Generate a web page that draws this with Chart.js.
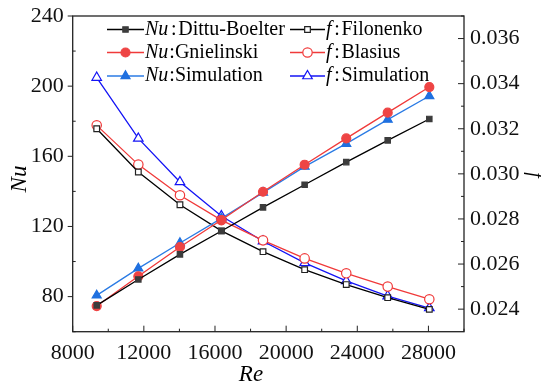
<!DOCTYPE html>
<html>
<head>
<meta charset="utf-8">
<script src="https://cdn.jsdelivr.net/npm/chart.js@4.4.0/dist/chart.umd.min.js"></script>
<style>
  html, body { margin: 0; padding: 0; background: #fff; }
  #wrap { width: 541px; height: 387px; }
</style>
</head>
<body>
<div id="wrap"><canvas id="Chart1"></canvas></div>
<script>
// values
const re = [9350, 11690, 14030, 16360, 18700, 21040, 23380, 25710, 28050]
const nuDittus = [75.0, 89.8, 104.1, 117.4, 130.9, 143.8, 156.7, 169.1, 181.3]
const nuGnielinski = [74.6, 91.6, 108.3, 123.7, 139.8, 155.2, 170.2, 184.9, 199.5]
const nuSimulation = [80.7, 96.1, 110.6, 124.6, 139.3, 154.1, 167.2, 180.9, 194.4]
const fFilonenko = [0.03200, 0.03008, 0.02863, 0.02747, 0.02655, 0.02575, 0.02509, 0.02451, 0.02399]
const fBlasius = [0.03215, 0.03041, 0.02905, 0.02795, 0.02705, 0.02625, 0.02559, 0.02500, 0.02444]
const fSimulation = [0.03427, 0.03157, 0.02964, 0.02813, 0.02701, 0.02605, 0.02525, 0.02458, 0.02405]

const xTicks = [8000, 12000, 16000, 20000, 24000, 28000]
const nuTicks = [80, 120, 160, 200, 240]
const fTicks = [0.024, 0.026, 0.028, 0.030, 0.032, 0.034, 0.036]

const legendItalic = ['Nu', 'Nu', 'Nu', 'f', 'f', 'f']
const legendRest = ['\u200A:\u200ADittu-Boelter', ':Gnielinski', ':Simulation', '\u200A:\u200AFilonenko', '\u200A:\u200ABlasius', '\u200A:\u200ASimulation']

const FONT = "'Liberation Serif', 'Times New Roman', serif"
const BLACK = '#000000'
const RED = '#f03a3a'
const LIGHTBLUE = '#2b7be4'
const BLUE = '#1414f5'

const toPoints = (ys) => re.map((x, i) => ({ x: x, y: ys[i] }))

const datasets = [
  { label: 'Nu:Dittu-Boelter', data: toPoints(nuDittus), yAxisID: 'y', borderColor: BLACK, backgroundColor: '#3c3c3c', pointBorderColor: '#3c3c3c', pointStyle: 'rect', pointRadius: 3.8 },
  { label: 'Nu:Gnielinski', data: toPoints(nuGnielinski), yAxisID: 'y', borderColor: RED, backgroundColor: '#ee4444', pointBorderColor: '#ee4444', pointStyle: 'circle', pointRadius: 4.5 },
  { label: 'Nu:Simulation', data: toPoints(nuSimulation), yAxisID: 'y', borderColor: LIGHTBLUE, backgroundColor: '#1f70e0', pointBorderColor: '#1f70e0', pointStyle: 'triangle', pointRadius: 5.2 },
  { label: 'f:Filonenko', data: toPoints(fFilonenko), yAxisID: 'y1', borderColor: BLACK, backgroundColor: '#ffffff', pointBorderColor: '#222222', pointStyle: 'rect', pointRadius: 4 },
  { label: 'f:Blasius', data: toPoints(fBlasius), yAxisID: 'y1', borderColor: RED, backgroundColor: '#ffffff', pointBorderColor: RED, pointStyle: 'circle', pointRadius: 4.7 },
  { label: 'f:Simulation', data: toPoints(fSimulation), yAxisID: 'y1', borderColor: BLUE, backgroundColor: '#ffffff', pointBorderColor: BLUE, pointStyle: 'triangle', pointRadius: 5.5 }
].map(d => ({ ...d, borderWidth: 1.3, pointBorderWidth: 1.2, pointBackgroundColor: d.backgroundColor, tension: 0, fill: false }))

const line = (ctx, x1, y1, x2, y2) => {
  ctx.beginPath()
  ctx.moveTo(x1, y1)
  ctx.lineTo(x2, y2)
  ctx.stroke()
}

// frame, tick marks, axis titles and the two-column legend
const decorations = {
  id: 'decorations',
  afterDatasetsDraw(chart) {
    const { ctx, chartArea: a, scales } = chart
    ctx.save()
    ctx.strokeStyle = '#222'
    ctx.lineWidth = 1.3
    ctx.strokeRect(a.left, a.top, a.right - a.left, a.bottom - a.top)
    ctx.lineWidth = 1

    xTicks.forEach(v => {
      const px = scales.x.getPixelForValue(v)
      line(ctx, px, a.bottom, px, a.bottom - 6)
      const pm = scales.x.getPixelForValue(v + 2000)
      line(ctx, pm, a.bottom, pm, a.bottom - 3)
    })
    nuTicks.forEach(v => {
      const py = scales.y.getPixelForValue(v)
      line(ctx, a.left, py, a.left - 5, py)
      const pm = scales.y.getPixelForValue(v - 20)
      line(ctx, a.left, pm, a.left + 3, pm)
    })
    fTicks.forEach(v => {
      const py = scales.y1.getPixelForValue(v)
      line(ctx, a.right, py, a.right - 6, py)
      const pm = scales.y1.getPixelForValue(v + 0.001)
      line(ctx, a.right, pm, a.right - 3, pm)
    })

    // axis titles
    ctx.fillStyle = '#000'
    ctx.textAlign = 'center'
    ctx.textBaseline = 'middle'
    ctx.font = `italic 23px ${FONT}`
    ctx.fillText('Re', 251, 375)
    ctx.save()
    ctx.translate(20, 179)
    ctx.rotate(-Math.PI / 2)
    ctx.fillText('Nu', 0, 0)
    ctx.restore()
    ctx.save()
    ctx.translate(534, 175)
    ctx.rotate(Math.PI / 2)
    ctx.font = `italic 20px ${FONT}`
    ctx.fillText('f', 0, 0)
    ctx.restore()

    // legend
    const rows = [29.5, 52.5, 76]
    const cols = [{ x1: 107, x2: 144, text: 145 }, { x1: 290, x2: 325, text: 326 }]
    chart.data.datasets.forEach((ds, i) => {
      const col = cols[Math.floor(i / 3)]
      const y = rows[i % 3]
      ctx.strokeStyle = ds.borderColor
      ctx.lineWidth = 1.3
      line(ctx, col.x1, y, col.x2, y)
      ctx.fillStyle = ds.pointBackgroundColor
      ctx.strokeStyle = ds.pointBorderColor
      ctx.lineWidth = ds.pointBorderWidth
      Chart.helpers.drawPoint(ctx, { pointStyle: ds.pointStyle, radius: ds.pointRadius, borderWidth: ds.pointBorderWidth, rotation: 0 }, (col.x1 + col.x2) / 2, y)
      ctx.fillStyle = '#000'
      ctx.textAlign = 'left'
      ctx.font = `italic 20px ${FONT}`
      ctx.fillText(legendItalic[i], col.text, y)
      const w = ctx.measureText(legendItalic[i]).width
      ctx.font = `20px ${FONT}`
      ctx.fillText(legendRest[i], col.text + w + 1, y)
    })
    ctx.restore()
  }
}

const tickFont = { family: FONT, size: 22 }
const noPad = (scale) => {
  scale.paddingTop = 0
  scale.paddingBottom = 0
  scale.paddingLeft = 0
  scale.paddingRight = 0
}

new Chart(document.getElementById('Chart1'), {
  type: 'line',
  data: { datasets: datasets },
  options: {
    responsive: true,
    maintainAspectRatio: false,
    animation: false,
    layout: { padding: { top: 16, left: 0, right: 0, bottom: 0 } },
    plugins: { legend: { display: false }, tooltip: { enabled: false } },
    scales: {
      x: {
        type: 'linear',
        min: 8000,
        max: 30000,
        grid: { display: false, drawTicks: false },
        border: { display: false },
        afterBuildTicks: (scale) => { scale.ticks = xTicks.map(v => ({ value: v })) },
        afterFit: (scale) => { scale.height = 55.3; noPad(scale) },
        ticks: { font: tickFont, color: '#111', padding: 8, maxRotation: 0, callback: (v) => String(v) }
      },
      y: {
        position: 'left',
        min: 60,
        max: 240,
        grid: { display: false, drawTicks: false },
        border: { display: false },
        afterBuildTicks: (scale) => { scale.ticks = nuTicks.map(v => ({ value: v })) },
        afterFit: (scale) => { scale.width = 72.7; noPad(scale) },
        ticks: { font: tickFont, color: '#111', padding: 9, callback: (v) => String(v) }
      },
      y1: {
        position: 'right',
        min: 0.023,
        max: 0.037,
        grid: { display: false, drawTicks: false },
        border: { display: false },
        afterBuildTicks: (scale) => { scale.ticks = fTicks.map(v => ({ value: v })) },
        afterFit: (scale) => { scale.width = 77; noPad(scale) },
        ticks: { font: tickFont, color: '#111', padding: 6, callback: (v) => v.toFixed(3) }
      }
    }
  },
  plugins: [decorations]
})
</script>
</body>
</html>
